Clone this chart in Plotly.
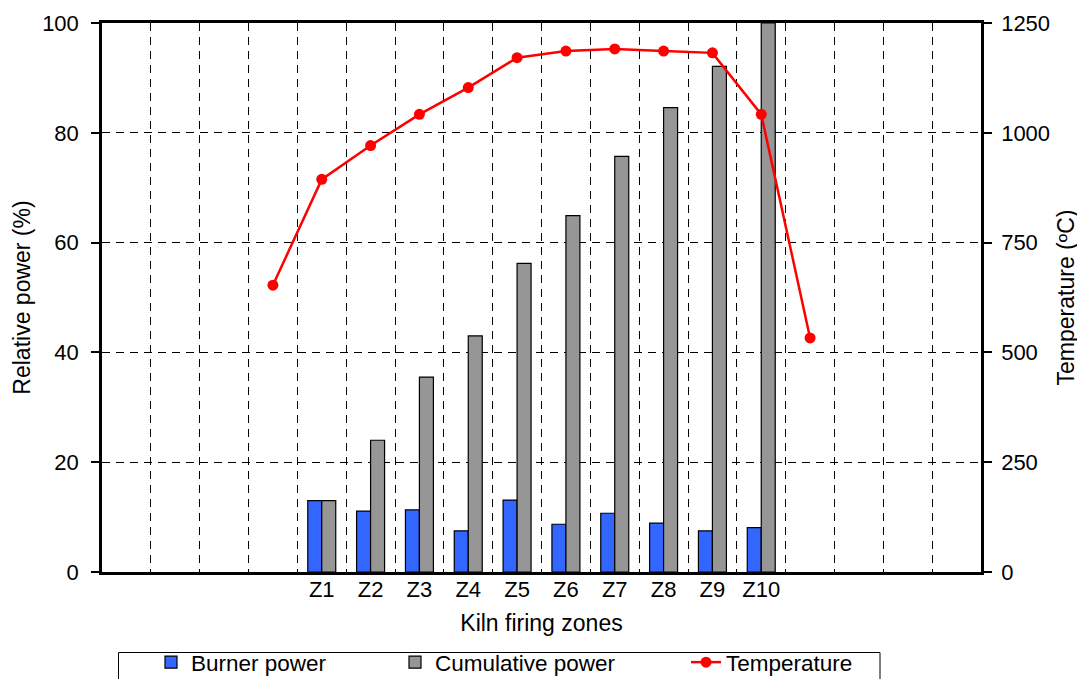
import plotly.graph_objects as go

# ---- data ----
zones = ["Z1", "Z2", "Z3", "Z4", "Z5", "Z6", "Z7", "Z8", "Z9", "Z10"]
burner_power = [13.0, 11.1, 11.3, 7.5, 13.1, 8.7, 10.7, 8.9, 7.5, 8.1]
cumulative_power = [13.0, 24.0, 35.5, 43.0, 56.2, 64.9, 75.7, 84.6, 92.1, 100.0]
# temperature measured before Z1, at each zone, and after Z10
temperature = [653, 894, 971, 1042, 1103, 1171, 1186, 1191, 1186, 1182, 1042, 533]

n_slots = 18
first_zone_slot = 4
zone_x = [first_zone_slot + i for i in range(len(zones))]
temp_x = [first_zone_slot - 1 + i for i in range(len(temperature))]

FONT = "Liberation Sans, Arial, sans-serif"
fs = 22
tfs = 23

fig = go.Figure()
fig.add_trace(go.Bar(
    x=zone_x, y=burner_power, name="Burner power",
    marker=dict(color="#3366FF", line=dict(color="black", width=1.2)),
    legend="legend",
))
fig.add_trace(go.Bar(
    x=zone_x, y=cumulative_power, name="Cumulative power",
    marker=dict(color="#969696", line=dict(color="black", width=1.2)),
    legend="legend2",
))
fig.add_trace(go.Scatter(
    x=temp_x, y=temperature, name="Temperature", yaxis="y2",
    mode="lines+markers",
    line=dict(color="#FF0000", width=2.5),
    marker=dict(color="#FF0000", size=11),
    legend="legend3",
))

# screen-pixel helpers (page has 8px body offset; plot area 102..981 x 23..572)
PL, PR, PT, PB = 102, 981, 23, 572


def px_x(p):
    return (p - PL) / (PR - PL)


def px_y(p):
    return (PB - p) / (PB - PT)


fig.add_shape(type="rect", xref="paper", yref="paper",
              x0=px_x(118.5), x1=px_x(880), y0=px_y(652.5), y1=px_y(720),
              line=dict(color="black", width=1), fillcolor="rgba(0,0,0,0)")

leg_common = dict(orientation="h", xanchor="left", yanchor="top",
                  bgcolor="rgba(0,0,0,0)", borderwidth=0,
                  font=dict(family=FONT, size=22.5, color="black"))

W, H = 1077, 671
fig.update_layout(
    width=W, height=H,
    margin=dict(l=PL - 8, r=W - (PR - 8), t=PT - 8, b=H - (PB - 8), autoexpand=False),
    paper_bgcolor="white", plot_bgcolor="white",
    font=dict(family=FONT, size=fs, color="black"),
    barmode="group", bargap=0.427, bargroupgap=0,
    legend=dict(x=px_x(151), y=px_y(641), **leg_common),
    legend2=dict(x=px_x(395), y=px_y(641), **leg_common),
    legend3=dict(x=px_x(686), y=px_y(641), **leg_common),
    xaxis=dict(
        range=[-0.5, n_slots - 0.5],
        tickmode="array", tickvals=zone_x, ticktext=zones,
        ticks="", showgrid=False, zeroline=False,
        showline=True, linecolor="black", linewidth=2.5, mirror=True,
        minor=dict(tick0=0.5, dtick=1, showgrid=True, gridcolor="black",
                   griddash="8px,6px", gridwidth=1, ticks=""),
        title=dict(text="Kiln firing zones", standoff=14, font=dict(size=tfs)),
        tickfont=dict(size=fs), ticklabelstandoff=-4, automargin=False,
    ),
    yaxis=dict(
        range=[0, 100], dtick=20, ticks="outside", ticklen=8, tickwidth=2,
        tickcolor="black", showline=True, linecolor="black", linewidth=2.5,
        showgrid=True, gridcolor="black", griddash="8px,6px", gridwidth=1,
        zeroline=False, ticklabelstandoff=8,
        title=dict(text="Relative power (%)", standoff=6, font=dict(size=tfs)),
        automargin=False,
    ),
    yaxis2=dict(
        range=[0, 1250], dtick=250, overlaying="y", side="right",
        ticks="outside", ticklen=8, tickwidth=2, tickcolor="black",
        showline=True, linecolor="black", linewidth=2.5,
        showgrid=False, zeroline=False, ticklabelstandoff=5,
        title=dict(text="Temperature (ºC)", standoff=9, font=dict(size=tfs)),
        automargin=False,
    ),
    showlegend=True,
)

fig.write_html("out.html")
